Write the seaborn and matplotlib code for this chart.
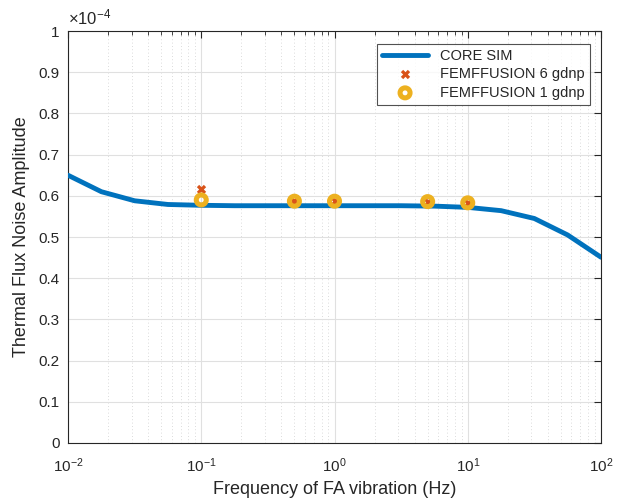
import numpy as np
import pandas as pd
import matplotlib
matplotlib.use("Agg")
import matplotlib.pyplot as plt
import matplotlib.ticker as mticker
import seaborn as sns

# CORE SIM curve: frequency (Hz) and noise amplitude (x1e-4)
core_freq = [0.01, 0.0178, 0.0316, 0.0562, 0.1, 0.178, 0.316, 0.562, 1.0,
             1.78, 3.16, 5.62, 10.0, 17.8, 31.6, 56.2, 100.0]
core_amp = [0.650, 0.610, 0.588, 0.579, 0.577, 0.576, 0.576, 0.576, 0.576,
            0.576, 0.576, 0.575, 0.572, 0.564, 0.545, 0.505, 0.451]

# FEMFFUSION results
fem_freq = [0.1, 0.5, 1.0, 5.0, 10.0]
fem6_amp = [0.617, 0.587, 0.587, 0.586, 0.583]
fem1_amp = [0.590, 0.587, 0.587, 0.586, 0.583]

y_ticks = [0, 0.1, 0.2, 0.3, 0.4, 0.5, 0.6, 0.7, 0.8, 0.9, 1.0]
scale = 1e-4

sns.set_style("white")
plt.rcParams["font.family"] = ["Liberation Sans", "DejaVu Sans"]
plt.rcParams["mathtext.fontset"] = "custom"
plt.rcParams["mathtext.rm"] = "Liberation Sans"
plt.rcParams["mathtext.it"] = "Liberation Sans:italic"

blue = "#0072BD"
red = "#D95319"
yellow = "#EDB120"
ink = "#262626"

fig = plt.figure(figsize=(6.19, 5.01), dpi=100)
ax = fig.add_axes([0.1099, 0.1158, 0.861, 0.8222])

core = pd.DataFrame({"f": core_freq, "a": np.array(core_amp) * scale})
fem1 = pd.DataFrame({"f": fem_freq, "a": np.array(fem1_amp) * scale})
fem6 = pd.DataFrame({"f": fem_freq, "a": np.array(fem6_amp) * scale})

sns.lineplot(data=core, x="f", y="a", ax=ax, color=blue, linewidth=3.5,
             label="CORE SIM", zorder=3)
sns.scatterplot(data=fem6, x="f", y="a", ax=ax, marker="X", color=red,
                s=45, linewidth=0, label="FEMFFUSION 6 gdnp", zorder=4)
sns.scatterplot(data=fem1, x="f", y="a", ax=ax, marker="o", facecolor="none",
                edgecolor=yellow, s=52, linewidth=3.6,
                label="FEMFFUSION 1 gdnp", zorder=5)

ax.set_xscale("log")
ax.set_xlim(1e-2, 1e2)
ax.set_ylim(0, 1e-4)
ax.set_yticks(np.array(y_ticks) * scale)
ax.yaxis.set_major_formatter(mticker.FuncFormatter(lambda v, p: f"{v / scale:g}"))
ax.text(0.0, 1.008, r"$\times10^{-4}$", transform=ax.transAxes,
        ha="left", va="bottom", fontsize=12, color=ink)

ax.xaxis.set_major_locator(mticker.LogLocator(base=10, numticks=10))
ax.xaxis.set_minor_locator(mticker.LogLocator(base=10, subs=np.arange(2, 10), numticks=100))
ax.xaxis.set_minor_formatter(mticker.NullFormatter())

ax.grid(True, which="major", color="#E0E0E0", linewidth=0.8, linestyle="-")
ax.grid(True, which="minor", axis="x", color="#CFCFCF", linewidth=0.6, linestyle=(0, (1, 3)))
ax.set_axisbelow(True)

for side in ["left", "right", "top", "bottom"]:
    ax.spines[side].set_visible(True)
    ax.spines[side].set_color(ink)
    ax.spines[side].set_linewidth(0.8)

ax.tick_params(which="both", direction="in", top=True, right=True,
               labelsize=11, colors=ink, length=5)
ax.tick_params(which="minor", length=3)
ax.tick_params(axis="x", which="major", pad=10)
ax.tick_params(axis="y", which="major", pad=6)

ax.set_xlabel("Frequency of FA vibration (Hz)", fontsize=13, color=ink, labelpad=4)
ax.set_ylabel("Thermal Flux Noise Amplitude", fontsize=13, color=ink, labelpad=6)

leg = ax.legend(loc="upper right", bbox_to_anchor=(0.979, 0.969), fontsize=10.5,
                frameon=True, fancybox=False, edgecolor=ink,
                handlelength=3.2, borderpad=0.35, labelspacing=0.3,
                borderaxespad=0)
leg.get_frame().set_linewidth(0.8)

fig.savefig("out.png", dpi=100)
